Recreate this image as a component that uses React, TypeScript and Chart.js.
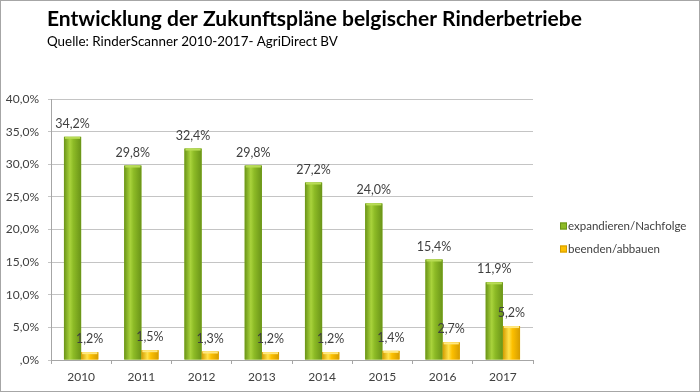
import React, { useEffect, useRef } from "react";
import { Chart, registerables } from "chart.js";

Chart.register(...registerables);

const years = ["2010", "2011", "2012", "2013", "2014", "2015", "2016", "2017"];
const expandieren = [34.2, 29.8, 32.4, 29.8, 27.2, 24.0, 15.4, 11.9];
const beenden = [1.2, 1.5, 1.3, 1.2, 1.2, 1.4, 2.7, 5.2];
const seriesNames = ["expandieren/Nachfolge", "beenden/abbauen"];
const titleText = "Entwicklung der Zukunftspläne belgischer Rinderbetriebe";
const subtitleText = "Quelle: RinderScanner 2010-2017- AgriDirect BV";

const FONT = "Lato, 'Open Sans', sans-serif";
const TEXT = "#404040";

const fmt = (v: number) => (v === 0 ? ",0%" : v.toFixed(1).replace(".", ",") + "%");

const palettes = [
  { edge: "#6a9418", mid: "#a9d33c", base: "#8dbb26", top: "#b8dc55" },
  { edge: "#d49c00", mid: "#ffe24a", base: "#fdc000", top: "#ffe880" },
];

const decorPlugin = {
  id: "decor",
  afterDatasetsDraw(chart: any) {
    const ctx = chart.ctx;
    chart.data.datasets.forEach((ds: any, di: number) => {
      const meta = chart.getDatasetMeta(di);
      const p = palettes[di];
      meta.data.forEach((el: any) => {
        const left = el.x - el.width / 2;
        const w = el.width;
        const top = el.y;
        const h = el.base - el.y;
        const g = ctx.createLinearGradient(left, 0, left + w, 0);
        g.addColorStop(0, p.edge);
        g.addColorStop(0.35, p.mid);
        g.addColorStop(0.55, p.base);
        g.addColorStop(1, p.edge);
        ctx.save();
        ctx.fillStyle = g;
        ctx.fillRect(left, top, w, h);
        ctx.fillStyle = p.top;
        ctx.fillRect(left + 1, top, w - 2, Math.min(2, h));
        ctx.restore();
      });
    });
    // data labels
    ctx.save();
    ctx.font = `12.5px ${FONT}`;
    ctx.fillStyle = TEXT;
    ctx.textAlign = "center";
    ctx.textBaseline = "middle";
    chart.data.datasets.forEach((ds: any, di: number) => {
      const meta = chart.getDatasetMeta(di);
      meta.data.forEach((el: any, i: number) => {
        ctx.fillText(fmt(ds.data[i]), el.x, el.y - 13);
      });
    });
    ctx.restore();
  },
  afterDraw(chart: any) {
    const ctx = chart.ctx;
    ctx.save();
    // titles
    ctx.fillStyle = "#000";
    ctx.textAlign = "left";
    ctx.textBaseline = "middle";
    ctx.font = `bold 21px ${FONT}`;
    ctx.fillText(titleText, 47, 19);
    ctx.font = `13.4px ${FONT}`;
    ctx.fillText(subtitleText, 47, 42);
    // legend
    ctx.font = `11.5px ${FONT}`;
    const ly = [226, 249];
    seriesNames.forEach((n, i) => {
      ctx.fillStyle = palettes[i].base;
      ctx.fillRect(560, ly[i] - 3.5, 7, 7);
      ctx.strokeStyle = palettes[i].edge;
      ctx.lineWidth = 1;
      ctx.strokeRect(560.5, ly[i] - 3, 6, 6);
      ctx.fillStyle = TEXT;
      ctx.fillText(n, 568, ly[i]);
    });
    // outer border
    ctx.strokeStyle = "#a6a6a6";
    ctx.lineWidth = 1;
    ctx.strokeRect(0.5, 0.5, chart.width - 1, chart.height - 1);
    ctx.restore();
  },
};

export default function App() {
  const ref = useRef<HTMLCanvasElement>(null);
  useEffect(() => {
    document.body.style.margin = "0";
    const chart = new Chart(ref.current!, {
      type: "bar",
      data: {
        labels: years,
        datasets: [
          { label: seriesNames[0], data: expandieren, backgroundColor: palettes[0].base, borderWidth: 0 },
          { label: seriesNames[1], data: beenden, backgroundColor: palettes[1].base, borderWidth: 0 },
        ],
      },
      options: {
        responsive: false,
        animation: false,
        layout: { padding: { top: 99, right: 167, left: 0, bottom: 0 } },
        datasets: { bar: { categoryPercentage: 0.57, barPercentage: 1 } } as any,
        plugins: { legend: { display: false }, title: { display: false }, tooltip: { enabled: false } },
        scales: {
          x: {
            grid: { display: true, drawOnChartArea: false, drawTicks: true, tickLength: 4, color: "#a6a6a6", offset: true },
            border: { color: "#a6a6a6" },
            ticks: { color: TEXT, font: { family: FONT, size: 12 }, padding: 6 },
            afterFit: (a: any) => { a.height = 32; },
          },
          y: {
            min: 0,
            max: 40,
            ticks: { stepSize: 5, color: TEXT, font: { family: FONT, size: 12 }, padding: 9, callback: (v: any) => fmt(Number(v)) },
            grid: { color: "#c4c4c4", tickLength: 3 },
            border: { color: "#a6a6a6" },
            afterFit: (a: any) => { a.width = 51; },
          },
        },
      },
      plugins: [decorPlugin],
    });
    return () => chart.destroy();
  }, []);
  return (
    <div style={{ width: 700, height: 392 }}>
      <canvas ref={ref} width={700} height={392} style={{ display: "block" }} />
    </div>
  );
}
